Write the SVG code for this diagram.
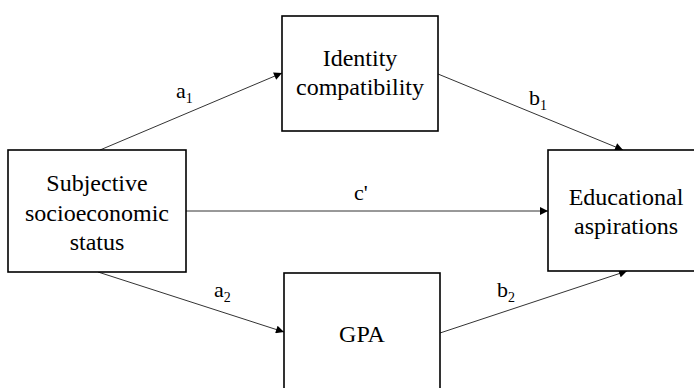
<svg xmlns="http://www.w3.org/2000/svg" width="694" height="388" viewBox="0 0 694 388">
<defs>
<style>
.box{fill:#fff;stroke:#000;stroke-width:1.6}
.t{font-family:'Liberation Serif','Times New Roman',serif;font-size:24px;fill:#000;text-anchor:middle}
.lab{font-family:'Liberation Serif','Times New Roman',serif;font-size:22px;fill:#000}
.sub{font-size:14px}
.edge{stroke:#333;stroke-width:1;fill:none;marker-end:url(#ah)}
</style>
<marker id="ah" viewBox="0 0 10 10" refX="10" refY="5" markerWidth="10" markerHeight="8" markerUnits="userSpaceOnUse" orient="auto">
<path d="M0,0 L10,5 L0,10 z" fill="#000"/>
</marker>
</defs>
<rect width="694" height="388" fill="#fff"/>
<g id="edges">
<line class="edge" x1="100" y1="150" x2="282" y2="73"/>
<line class="edge" x1="438" y1="74" x2="623" y2="150"/>
<line class="edge" x1="186" y1="211" x2="548" y2="211"/>
<line class="edge" x1="98" y1="272" x2="284" y2="332"/>
<line class="edge" x1="440" y1="333" x2="627" y2="271"/>
<text class="lab" x="176" y="98">a<tspan class="sub" dy="5">1</tspan></text>
<text class="lab" x="529" y="105">b<tspan class="sub" dy="5">1</tspan></text>
<text class="lab" x="354" y="200">c'</text>
<text class="lab" x="214" y="297">a<tspan class="sub" dy="5">2</tspan></text>
<text class="lab" x="497" y="297">b<tspan class="sub" dy="5">2</tspan></text>
</g>
<g id="ses">
<rect class="box" x="8" y="150" width="178" height="122"/>
<text class="t" x="97" y="191">Subjective</text>
<text class="t" x="97" y="221">socioeconomic</text>
<text class="t" x="97" y="250">status</text>
</g>
<g id="identity">
<rect class="box" x="282" y="16" width="156" height="115"/>
<text class="t" x="360" y="66">Identity</text>
<text class="t" x="360" y="95">compatibility</text>
</g>
<g id="gpa">
<rect class="box" x="284" y="273" width="156" height="120"/>
<text class="t" x="362" y="342">GPA</text>
</g>
<g id="aspirations">
<rect class="box" x="548" y="150" width="156" height="121"/>
<text class="t" x="626" y="205">Educational</text>
<text class="t" x="626" y="234">aspirations</text>
</g>
</svg>
